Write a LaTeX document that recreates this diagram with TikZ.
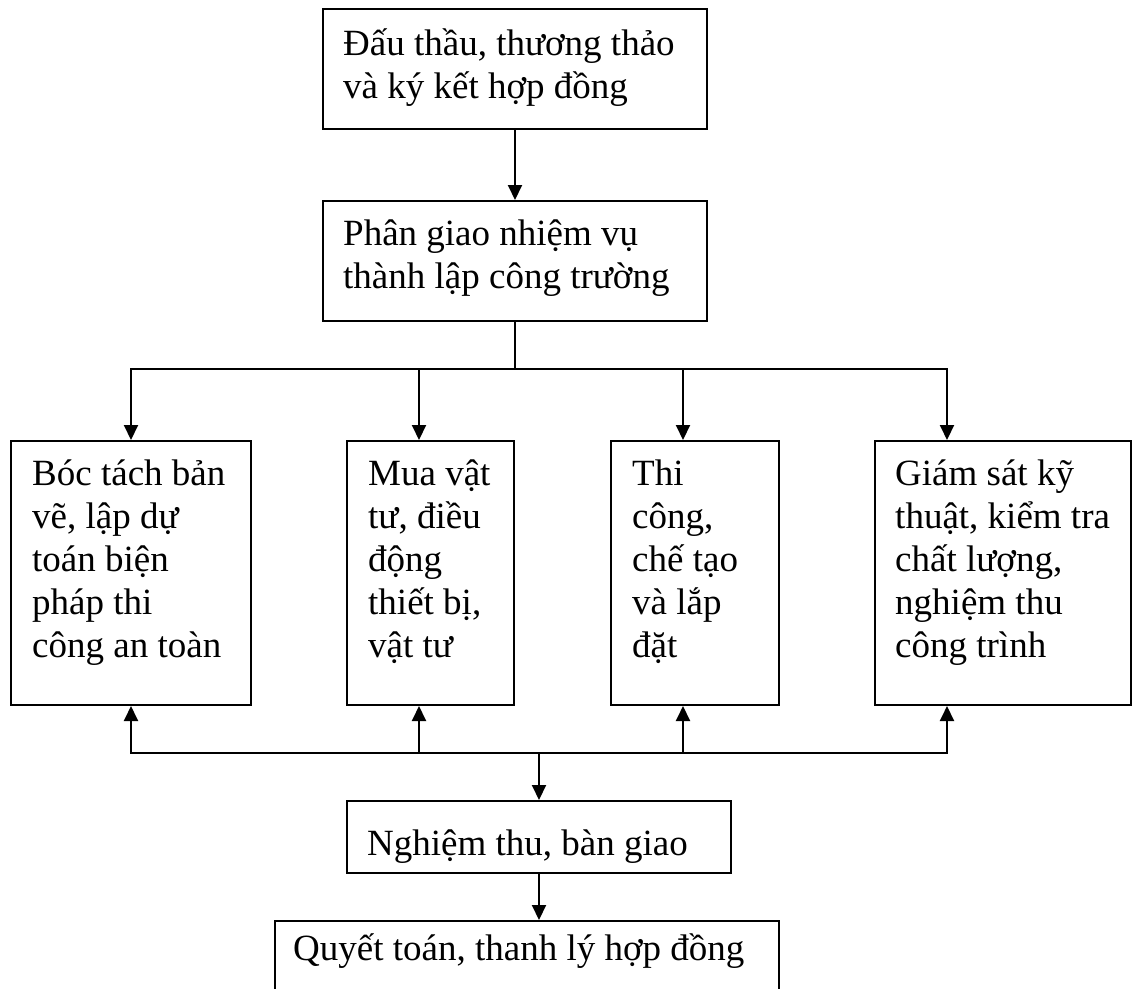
\documentclass[tikz,border=0pt]{standalone}
\usepackage{fontspec}
\setmainfont{Liberation Serif}
\usetikzlibrary{arrows.meta}

\begin{document}
\begin{tikzpicture}[x=1pt,y=-1pt,
  box/.style={draw=black,line width=2pt,inner sep=0pt,fill=white},
  txt/.style={inner sep=0pt,anchor=base west,font=\fontsize{37}{43}\selectfont},
  wire/.style={draw=black,line width=2pt,line cap=rect},
  conn/.style={draw=black,line width=2pt,-{Triangle[length=15pt,width=14pt]}}]

% canvas
\fill[white] (0,0) rectangle (1134,988);
\useasboundingbox (0,0) rectangle (1134,988);
\clip (0,0) rectangle (1134,988);

% boxes
\node[box,minimum width=384pt,minimum height=120pt] (b1) at (515,69) {};
\node[box,minimum width=384pt,minimum height=120pt] (b2) at (515,261) {};
\node[box,minimum width=240pt,minimum height=264pt] (bA) at (131,573) {};
\node[box,minimum width=167pt,minimum height=264pt] (bB) at (430.5,573) {};
\node[box,minimum width=168pt,minimum height=264pt] (bC) at (695,573) {};
\node[box,minimum width=256pt,minimum height=264pt] (bD) at (1003,573) {};
\node[box,minimum width=384pt,minimum height=72pt] (bN) at (539,837) {};
\node[box,minimum width=504pt,minimum height=84pt] (bQ) at (527,963) {};

% texts
\node[txt] (t1) at (343,55) {\parbox[t]{360pt}{\raggedright Đấu thầu, thương thảo\\và ký kết hợp đồng}};
\node[txt] (t2) at (343,245) {\parbox[t]{360pt}{\raggedright Phân giao nhiệm vụ\\thành lập công trường}};
\node[txt] (tA) at (32,485) {\parbox[t]{215pt}{\raggedright Bóc tách bản\\vẽ, lập dự\\toán biện\\pháp thi\\công an toàn}};
\node[txt] (tB) at (368,485) {\parbox[t]{140pt}{\raggedright Mua vật\\tư, điều\\động\\thiết bị,\\vật tư}};
\node[txt] (tC) at (632,485) {\parbox[t]{140pt}{\raggedright Thi\\công,\\chế tạo\\và lắp\\đặt}};
\node[txt] (tD) at (895,485) {\parbox[t]{235pt}{\raggedright Giám sát kỹ\\thuật, kiểm tra\\chất lượng,\\nghiệm thu\\công trình}};
\node[txt] (tN) at (367,855) {Nghiệm thu, bàn giao};
\node[txt] (tQ) at (293,960) {Quyết toán, thanh lý hợp đồng};

% top distribution bus
\coordinate (busT) at (515,369);
\coordinate (dA) at (131,369);
\coordinate (dB) at (419,369);
\coordinate (dC) at (683,369);
\coordinate (dD) at (947,369);

\draw[conn] (b1.south) -- (b2.north);
\draw[wire] (b2.south) -- (busT);
\draw[wire] (dA) -- (dD);
\draw[conn] (dA) -- (dA |- bA.north);
\draw[conn] (dB) -- (dB |- bB.north);
\draw[conn] (dC) -- (dC |- bC.north);
\draw[conn] (dD) -- (dD |- bD.north);

% bottom collecting bus
\coordinate (uA) at (131,753);
\coordinate (uB) at (419,753);
\coordinate (uC) at (683,753);
\coordinate (uD) at (947,753);
\coordinate (uN) at (539,753);

\draw[wire] (uA) -- (uD);
\draw[conn] (uA) -- (uA |- bA.south);
\draw[conn] (uB) -- (uB |- bB.south);
\draw[conn] (uC) -- (uC |- bC.south);
\draw[conn] (uD) -- (uD |- bD.south);
\draw[conn] (uN) -- (bN.north);
\draw[conn] (bN.south) -- (bN.south |- bQ.north);
\end{tikzpicture}
\end{document}
